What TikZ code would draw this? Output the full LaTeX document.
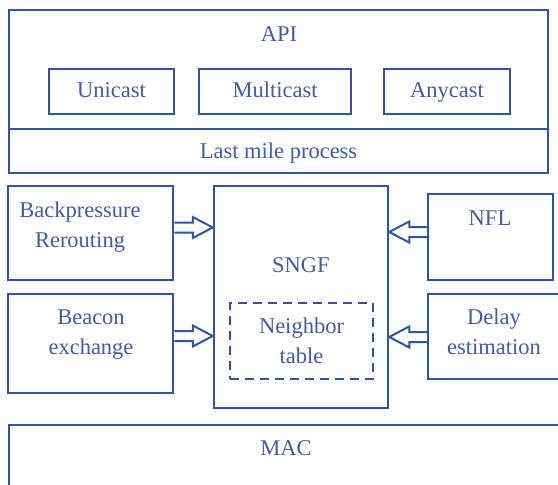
\documentclass[tikz,border=0pt]{standalone}
\usepackage{fontspec}
\setmainfont{Liberation Serif}
\usetikzlibrary{calc}
\definecolor{lineblue}{RGB}{46,84,164}
\definecolor{textblue}{RGB}{62,92,168}
\tikzset{
  box/.style={draw=lineblue, line width=2.5pt, rectangle, inner sep=0pt},
  dbox/.style={box, dash pattern=on 9pt off 6pt},
  lbl/.style={text=textblue, font=\fontsize{22.5}{30}\selectfont, align=center, inner sep=0pt, anchor=base},
  fat/.style={draw=lineblue, line width=2pt, line join=miter},
}
\newcommand\fatarr[2]{\draw[fat] let \p1=#1, \p2=#2, \n1={sign(\x2-\x1)} in
  (\x1,\y1+5pt) -- (\x2-\n1*20pt,\y1+5pt) -- (\x2-\n1*20pt,\y1+10.5pt) -- (\x2,\y1)
  -- (\x2-\n1*20pt,\y1-10.5pt) -- (\x2-\n1*20pt,\y1-5pt) -- (\x1,\y1-5pt);}
\begin{document}
\begin{tikzpicture}[x=1pt,y=-1pt]
\useasboundingbox (0,0) rectangle (558,485);
\clip (0,0) rectangle (558,485);
% boxes
\node[box, minimum width=539pt, minimum height=119pt] (apibox) at (278.5,69.5) {};
\node[box, minimum width=539pt, minimum height=44pt] (lmbox) at (278.5,151) {};
\node[box, minimum width=125pt, minimum height=45pt] (uni) at (111.5,91.5) {};
\node[box, minimum width=152pt, minimum height=45pt] (multi) at (275,91.5) {};
\node[box, minimum width=126pt, minimum height=45pt] (any) at (447,91.5) {};
\node[box, minimum width=165pt, minimum height=94pt] (bp) at (90.5,233) {};
\node[box, minimum width=165pt, minimum height=99pt] (beacon) at (90.5,343.5) {};
\node[box, minimum width=174pt, minimum height=222pt] (sngf) at (301,297) {};
\node[dbox, minimum width=143pt, minimum height=76pt] (nbr) at (301.5,341) {};
\node[box, minimum width=125pt, minimum height=86pt] (nfl) at (490.5,237) {};
\node[box, minimum width=152pt, minimum height=85pt] (delay) at (504,336.5) {};
\node[box, minimum width=571pt, minimum height=95pt] (mac) at (294.5,472.5) {};
% labels (placed by baseline of last line)
\node[lbl] (tapi) at (279,41) {API};
\node[lbl] (tuni) at (111.5,97) {Unicast};
\node[lbl] (tmulti) at (275,97) {Multicast};
\node[lbl] (tany) at (447,97) {Anycast};
\node[lbl] (tlm) at (278.5,158) {Last mile process};
\node[lbl] (tbp) at (80,247) {Backpressure\\Rerouting};
\node[lbl] (tbeacon) at (91,354) {Beacon\\exchange};
\node[lbl] (tsngf) at (301,272) {SNGF};
\node[lbl] (tnbr) at (301.5,363) {Neighbor\\table};
\node[lbl] (tnfl) at (490,225) {NFL};
\node[lbl] (tdelay) at (494,354) {Delay\\estimation};
\node[lbl] (tmac) at (286,455) {MAC};
% arrow anchors
\coordinate (a1s) at ($(bp.east)+(0,-5.5)$);
\coordinate (a1e) at (a1s -| sngf.west);
\coordinate (a2s) at ($(beacon.east)+(0,-7.5)$);
\coordinate (a2e) at (a2s -| sngf.west);
\coordinate (a3s) at ($(nfl.west)+(0,-5)$);
\coordinate (a3e) at (a3s -| sngf.east);
\coordinate (a4s) at ($(delay.west)+(0,0.5)$);
\coordinate (a4e) at (a4s -| sngf.east);
\fatarr{(a1s)}{(a1e)}
\fatarr{(a2s)}{(a2e)}
\fatarr{(a3s)}{(a3e)}
\fatarr{(a4s)}{(a4e)}
\end{tikzpicture}
\end{document}
